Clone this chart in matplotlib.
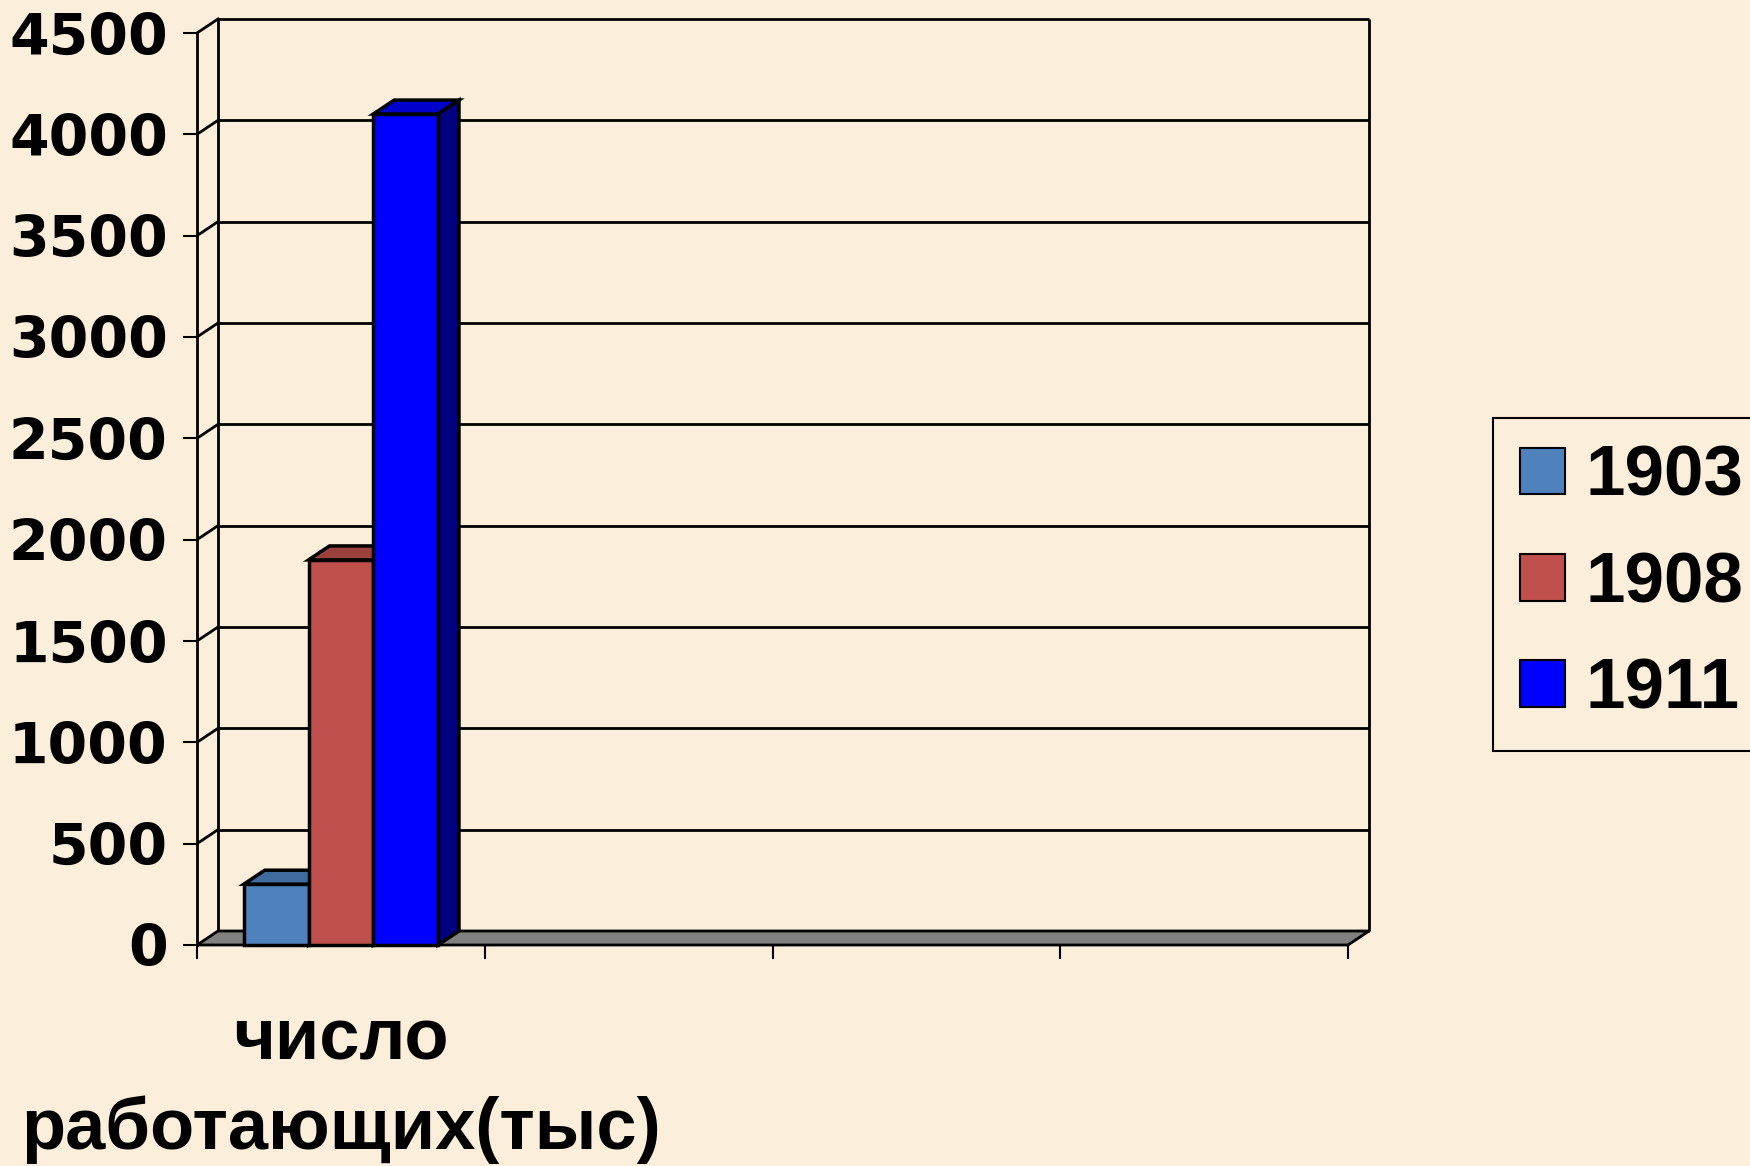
import numpy as np
import matplotlib.pyplot as plt
from matplotlib import transforms
from matplotlib.patches import Polygon, Patch

# data
categories = ["число\nработающих(тыс)", "", "", ""]
series_names = ["1903", "1908", "1911"]
values = [300, 1900, 4100]  # only the first category has data
front_colors = ["#4F81BD", "#C0504D", "#0000FF"]
top_colors = ["#3F6B9F", "#9C403D", "#0000CC"]
side_colors = ["#2F5486", "#7E302E", "#000080"]
yticks = np.arange(0, 4501, 500)

BG = "#FBEEDA"
DEPTH_PX = (21, 14)  # fake 3d depth of the plot box, in pixels
LW = 2.0

fig = plt.figure(figsize=(17.5, 11.66), dpi=100, facecolor=BG)
ax = fig.add_axes([197 / 1750, 221 / 1166, 1151 / 1750, 912 / 1166])
ax.set_facecolor("none")
ax.set_xlim(0, len(categories))
ax.set_ylim(0, 4500)

# depth offset in data units
p0 = ax.transData.transform((0, 0))
dxd, dyd = ax.transData.inverted().transform(p0 + np.array(DEPTH_PX))
back = transforms.offset_copy(ax.transData, fig=fig, x=DEPTH_PX[0], y=DEPTH_PX[1], units="dots")

ncat = len(categories)
# back wall + gridlines
ax.hlines(yticks, 0, ncat, colors="black", lw=LW, transform=back, clip_on=False, zorder=1)
ax.vlines([0, ncat], 0, 4500, colors="black", lw=LW, transform=back, clip_on=False, zorder=1)
# left wall connectors
for y in yticks[1:]:
    ax.plot([0, dxd], [y, y + dyd], color="black", lw=LW, clip_on=False, zorder=1)

# floor
floor = Polygon([(0, 0), (ncat, 0), (ncat + dxd, dyd), (dxd, dyd)], closed=True,
                facecolor="#808080", edgecolor="black", lw=LW, clip_on=False, zorder=2)
ax.add_patch(floor)

# bars
bar_w = 0.225
BLW = 2.5
start = 0.5 - bar_w * len(values) / 2
for i, (name, v) in enumerate(zip(series_names, values)):
    x0 = start + i * bar_w
    x1 = x0 + bar_w
    top = Polygon([(x0, v), (x1, v), (x1 + dxd, v + dyd), (x0 + dxd, v + dyd)], closed=True,
                  facecolor=top_colors[i], edgecolor="black", lw=BLW, clip_on=False, zorder=3)
    side = Polygon([(x1, 0), (x1, v), (x1 + dxd, v + dyd), (x1 + dxd, dyd)], closed=True,
                   facecolor=side_colors[i], edgecolor="black", lw=BLW, clip_on=False, zorder=3)
    ax.add_patch(top)
    ax.add_patch(side)
    ax.bar(x0, v, width=bar_w, align="edge", color=front_colors[i], edgecolor="black",
           lw=BLW, zorder=4, clip_on=False)

# axes styling
for s in ["top", "right", "bottom"]:
    ax.spines[s].set_visible(False)
ax.spines["left"].set_linewidth(LW)
ax.spines["left"].set_zorder(5)

ax.set_yticks(yticks)
ax.set_yticklabels([str(t) for t in yticks], fontfamily="DejaVu Sans", fontweight="bold", fontsize=41)
ax.tick_params(axis="y", length=10, width=1.5, pad=11, colors="black")

ax.set_xticks(np.arange(ncat + 1))
ax.set_xticklabels([])
ax.tick_params(axis="x", which="major", length=10, width=1.5)
ax.set_xticks(np.arange(ncat) + 0.5, minor=True)
ax.set_xticklabels(categories, minor=True, fontfamily="Liberation Sans", fontweight="bold",
                   fontsize=52, linespacing=1.4)
ax.tick_params(axis="x", which="minor", length=0, pad=44)

handles = [Patch(facecolor=c, edgecolor="black", lw=1.5) for c in front_colors]
leg = fig.legend(handles, series_names, loc="upper left", bbox_to_anchor=(1493 / 1750, 1 - 418 / 1166),
                 frameon=True, fancybox=False, edgecolor="black", facecolor=BG, framealpha=1,
                 prop={"family": "Liberation Sans", "weight": "bold", "size": 51},
                 handlelength=0.64, handleheight=0.64, handletextpad=0.28, labelspacing=0.57,
                 borderpad=0.38, borderaxespad=0)
leg.get_frame().set_linewidth(1.5)

fig.savefig("out.png", dpi=100, facecolor=BG)
